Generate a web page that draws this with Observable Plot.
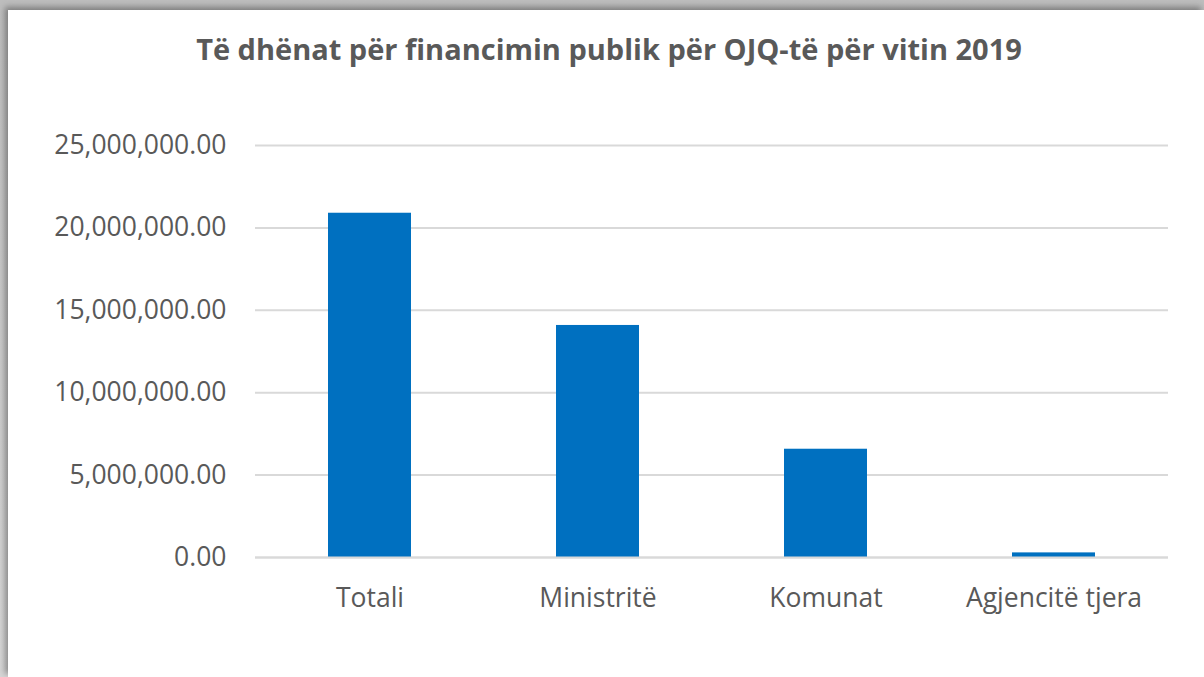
<!DOCTYPE html>
<html>
<head>
<meta charset="utf-8">
<script src="https://cdn.jsdelivr.net/npm/d3@7"></script>
<script src="https://cdn.jsdelivr.net/npm/@observablehq/plot@0.6"></script>
<style>
  html, body { margin: 0; padding: 0; width: 1204px; height: 677px; overflow: hidden;
    background: linear-gradient(#bdbdbd, #d6d6d6); }
  #frame { position: absolute; left: 8px; top: 10px; width: 1196px; height: 667px; background: #fff;
    box-shadow: -3px -3px 6px rgba(0,0,0,0.35); }
  #title { position: absolute; left: 0; top: 19px; width: 1202px; text-align: center;
    font-family: "Open Sans", sans-serif; font-weight: bold; font-size: 29px; color: #595959; }
  #chart { position: absolute; left: 0; top: 90px; }
</style>
</head>
<body>
<div id="frame">
  <div id="title">Të dhënat për financimin publik për OJQ-të për vitin 2019</div>
  <div id="chart"></div>
</div>
<script>
const categories = ["Totali", "Ministritë", "Komunat", "Agjencitë tjera"];
const values = [20890000, 14080000, 6570000, 280000];
const yTicks = [0, 5000000, 10000000, 15000000, 20000000, 25000000];

const data = categories.map((c, i) => ({category: c, value: values[i]}));

const chart = Plot.plot({
  width: 1196,
  height: 600,
  marginTop: 45,
  marginBottom: 143,
  marginLeft: 247,
  marginRight: 36,
  style: {fontFamily: "Open Sans, sans-serif", fontSize: "26.5px", color: "#595959", background: "transparent"},
  x: {domain: categories, paddingInner: 0.636, paddingOuter: 0.318, label: null, tickSize: 0, tickPadding: 31},
  y: {domain: [0, 25000000], ticks: yTicks, tickFormat: d3.format(",.2f"), label: null, tickSize: 0, tickPadding: 29},
  marks: [
    Plot.ruleY(yTicks, {stroke: "#d9d9d9", strokeWidth: 2}),
    Plot.barY(data, {x: "category", y: "value", fill: "#0070C0"}),
    Plot.ruleY([0], {stroke: "#d9d9d9", strokeWidth: 2})
  ]
});
document.getElementById("chart").appendChild(chart);
</script>
</body>
</html>
